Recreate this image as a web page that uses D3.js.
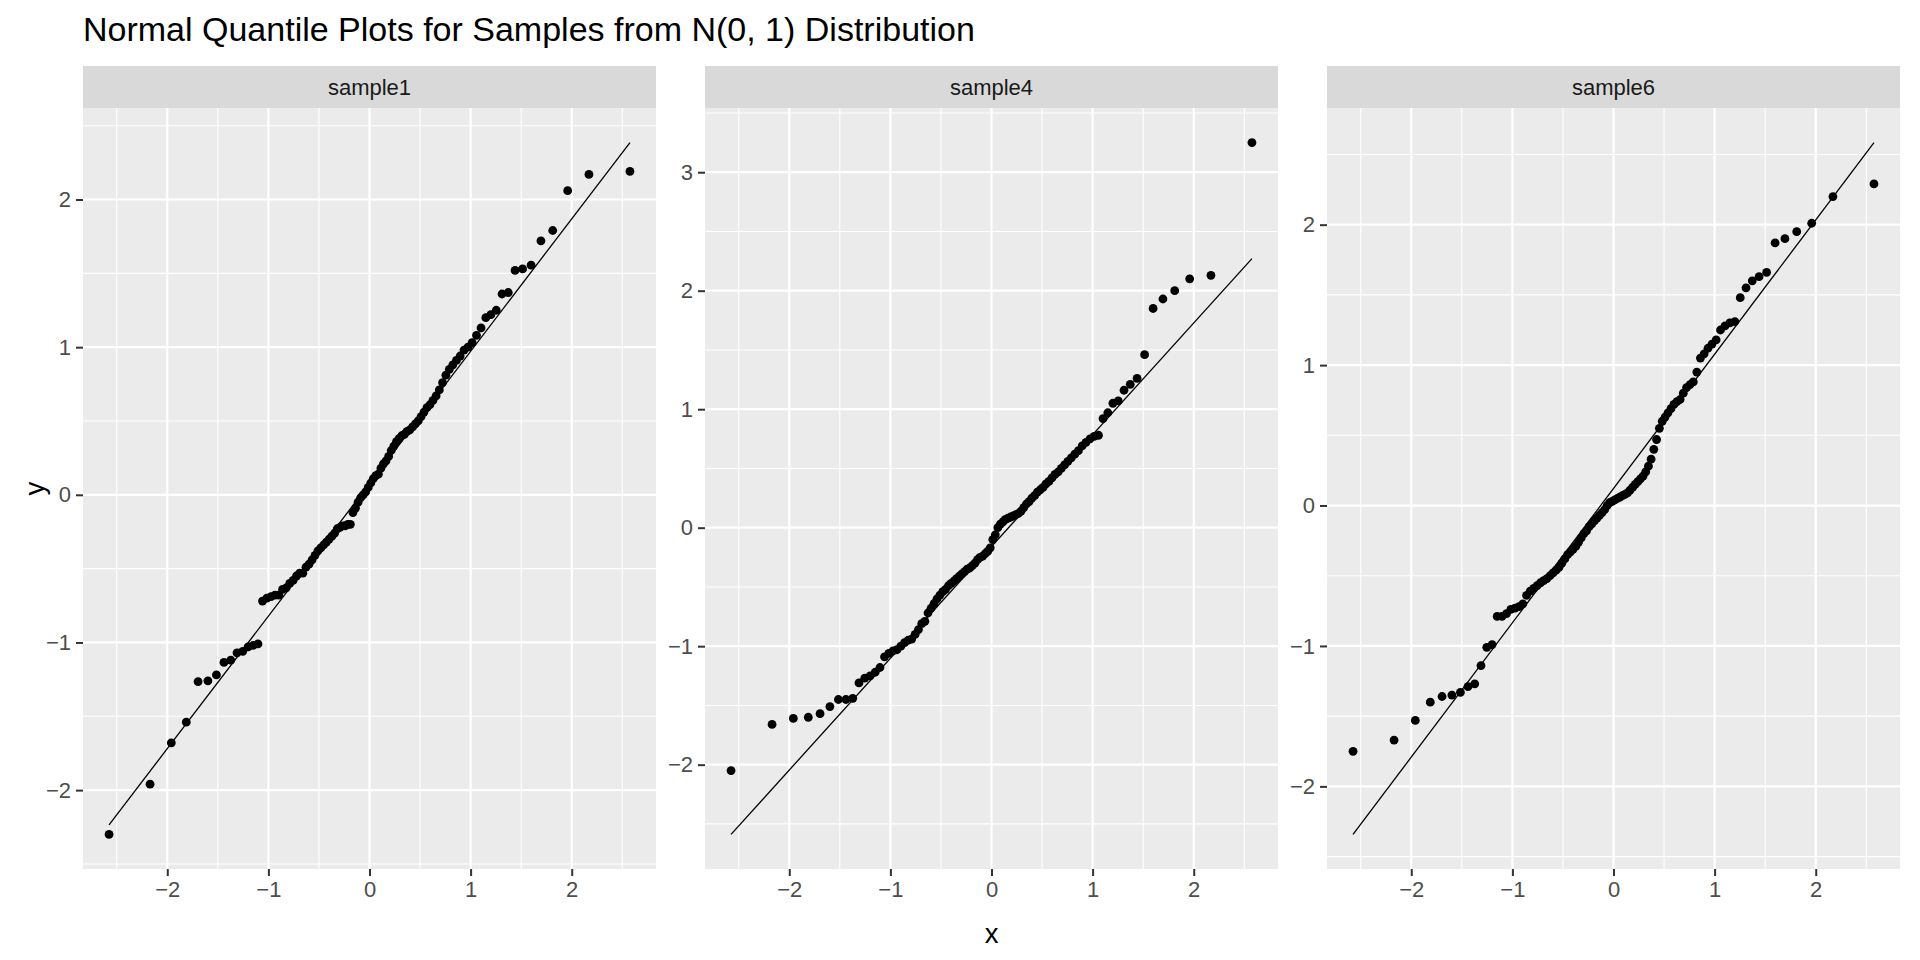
<!DOCTYPE html>
<html><head><meta charset="utf-8">
<script src="https://cdn.jsdelivr.net/npm/d3@7"></script>
<style>
body{margin:0;background:#fff}
svg{display:block}
text{font-family:"Liberation Sans",Arial,sans-serif}
</style>
</head><body>
<svg id="chart" width="1920" height="960"></svg>
<script>
const chartTitle = "Normal Quantile Plots for Samples from N(0, 1) Distribution";
const xAxisTitle = "x";
const yAxisTitle = "y";
const panelNames = ["sample1", "sample4", "sample6"];

const sample1 = [-2.30,-1.96,-1.68,-1.54,-1.265,-1.26,-1.22,-1.135,-1.12,-1.07,
  -1.06,-1.03,-1.02,-1.01,-0.72,-0.70,-0.69,-0.68,-0.68,-0.64,
  -0.63,-0.60,-0.58,-0.55,-0.53,-0.53,-0.49,-0.47,-0.44,-0.41,
  -0.38,-0.36,-0.34,-0.32,-0.30,-0.28,-0.26,-0.23,-0.22,-0.21,
  -0.21,-0.20,-0.20,-0.12,-0.09,-0.05,-0.02,0.00,0.02,0.05,
  0.08,0.11,0.13,0.14,0.18,0.21,0.23,0.26,0.30,0.33,
  0.36,0.38,0.40,0.41,0.43,0.44,0.46,0.48,0.50,0.53,
  0.56,0.59,0.61,0.64,0.67,0.71,0.76,0.81,0.85,0.88,
  0.91,0.94,0.98,1.00,1.03,1.08,1.13,1.20,1.22,1.25,
  1.36,1.37,1.52,1.53,1.555,1.72,1.79,2.06,2.17,2.19];

const sample4 = [-2.05,-1.66,-1.61,-1.60,-1.57,-1.51,-1.45,-1.45,-1.44,-1.31,
  -1.27,-1.25,-1.22,-1.18,-1.09,-1.06,-1.04,-1.03,-1.00,-0.97,
  -0.95,-0.94,-0.90,-0.86,-0.81,-0.79,-0.72,-0.68,-0.64,-0.60,
  -0.57,-0.54,-0.52,-0.49,-0.47,-0.45,-0.43,-0.41,-0.39,-0.37,
  -0.35,-0.34,-0.32,-0.30,-0.27,-0.25,-0.24,-0.22,-0.20,-0.17,
  -0.10,-0.06,0.00,0.03,0.05,0.07,0.08,0.09,0.10,0.11,
  0.12,0.14,0.17,0.20,0.22,0.25,0.27,0.30,0.32,0.34,
  0.37,0.39,0.42,0.45,0.47,0.50,0.53,0.56,0.59,0.62,
  0.65,0.69,0.72,0.75,0.77,0.78,0.92,0.97,1.05,1.07,
  1.16,1.21,1.26,1.46,1.85,1.93,2.00,2.10,2.13,3.25];

const sample6 = [-1.75,-1.67,-1.53,-1.40,-1.36,-1.35,-1.33,-1.29,-1.27,-1.14,
  -1.01,-0.99,-0.79,-0.79,-0.77,-0.74,-0.73,-0.72,-0.70,-0.64,
  -0.61,-0.59,-0.57,-0.55,-0.535,-0.52,-0.50,-0.48,-0.46,-0.44,
  -0.41,-0.38,-0.35,-0.33,-0.31,-0.29,-0.26,-0.23,-0.20,-0.18,
  -0.15,-0.13,-0.11,-0.09,-0.07,-0.05,-0.03,0.00,0.02,0.03,
  0.04,0.05,0.06,0.07,0.08,0.09,0.11,0.13,0.15,0.17,
  0.19,0.21,0.24,0.28,0.33,0.40,0.47,0.55,0.60,0.63,
  0.66,0.69,0.72,0.74,0.755,0.80,0.84,0.86,0.88,0.95,
  1.05,1.08,1.12,1.15,1.18,1.25,1.28,1.30,1.31,1.48,
  1.55,1.60,1.63,1.66,1.87,1.90,1.95,2.01,2.20,2.29];

const xTickValues = [-2, -1, 0, 1, 2];
const yTicks1 = [-2, -1, 0, 1, 2];
const yTicks4 = [-2, -1, 0, 1, 2, 3];
const yTicks6 = [-2, -1, 0, 1, 2];

const samples = [sample1, sample4, sample6];
const yTickSets = [yTicks1, yTicks4, yTicks6];

// inverse standard normal CDF (Acklam)
function qnorm(p) {
  const a=[-3.969683028665376e+01,2.209460984245205e+02,-2.759285104469687e+02,1.383577518672690e+02,-3.066479806614716e+01,2.506628277459239e+00];
  const b=[-5.447609879822406e+01,1.615858368580409e+02,-1.556989798598866e+02,6.680131188771972e+01,-1.328068155288572e+01];
  const c=[-7.784894002430293e-03,-3.223964580411365e-01,-2.400758277161838e+00,-2.549732539343734e+00,4.374664141464968e+00,2.938163982698783e+00];
  const d=[7.784695709041462e-03,3.224671290700398e-01,2.445134137142996e+00,3.754408661907416e+00];
  const pl=0.02425, ph=1-pl;
  let q,r;
  if(p<pl){q=Math.sqrt(-2*Math.log(p));return (((((c[0]*q+c[1])*q+c[2])*q+c[3])*q+c[4])*q+c[5])/((((d[0]*q+d[1])*q+d[2])*q+d[3])*q+1);}
  if(p<=ph){q=p-0.5;r=q*q;return (((((a[0]*r+a[1])*r+a[2])*r+a[3])*r+a[4])*r+a[5])*q/(((((b[0]*r+b[1])*r+b[2])*r+b[3])*r+b[4])*r+1);}
  q=Math.sqrt(-2*Math.log(1-p));return -(((((c[0]*q+c[1])*q+c[2])*q+c[3])*q+c[4])*q+c[5])/((((d[0]*q+d[1])*q+d[2])*q+d[3])*q+1);
}

const svg = d3.select("#chart");
const stripTop = 66, panelTop = 108, panelBottom = 869;
const panelW = 573, panelX0 = [83, 705, 1327];
const tickLen = 7;

svg.append("text").attr("x", panelX0[0]).attr("y", 41)
  .attr("font-size", 34).attr("fill", "#000").text(chartTitle);

function expand(ext) { const r = ext[1]-ext[0]; return [ext[0]-0.05*r, ext[1]+0.05*r]; }

samples.forEach((data, k) => {
  const sorted = data.slice().sort(d3.ascending);
  const n = sorted.length;
  const pts = sorted.map((v, i) => ({x: qnorm((i + 0.5) / n), y: v}));
  const q25 = d3.quantile(sorted, 0.25), q75 = d3.quantile(sorted, 0.75);
  const t25 = qnorm(0.25), t75 = qnorm(0.75);
  const slope = (q75 - q25) / (t75 - t25), icpt = q25 - slope * t25;
  const xmin = pts[0].x, xmax = pts[n-1].x;
  const line = [{x: xmin, y: icpt + slope*xmin}, {x: xmax, y: icpt + slope*xmax}];
  const yext = d3.extent(pts.concat(line), d => d.y);
  const x0 = panelX0[k];
  const xs = d3.scaleLinear().domain(expand([xmin, xmax])).range([x0, x0 + panelW]);
  const ys = d3.scaleLinear().domain(expand(yext)).range([panelBottom, panelTop]);
  const g = svg.append("g");
  g.append("rect").attr("x", x0).attr("y", panelTop).attr("width", panelW)
    .attr("height", panelBottom - panelTop).attr("fill", "#EBEBEB");
  const xd = xs.domain(), yd = ys.domain();
  const yTicks = yTickSets[k];
  const xMinor = d3.range(xTickValues[0]-0.5, xTickValues[xTickValues.length-1]+1, 1).filter(v => v > xd[0] && v < xd[1]);
  const yMinor = d3.range(yTicks[0]-0.5, yTicks[yTicks.length-1]+1, 1).filter(v => v > yd[0] && v < yd[1]);
  g.selectAll(".xmin").data(xMinor).join("line")
    .attr("x1", d => xs(d)).attr("x2", d => xs(d)).attr("y1", panelTop).attr("y2", panelBottom)
    .attr("stroke", "#fff").attr("stroke-width", 1.1);
  g.selectAll(".ymin").data(yMinor).join("line")
    .attr("y1", d => ys(d)).attr("y2", d => ys(d)).attr("x1", x0).attr("x2", x0 + panelW)
    .attr("stroke", "#fff").attr("stroke-width", 1.1);
  g.selectAll(".xmaj").data(xTickValues).join("line")
    .attr("x1", d => xs(d)).attr("x2", d => xs(d)).attr("y1", panelTop).attr("y2", panelBottom)
    .attr("stroke", "#fff").attr("stroke-width", 2.2);
  g.selectAll(".ymaj").data(yTicks).join("line")
    .attr("y1", d => ys(d)).attr("y2", d => ys(d)).attr("x1", x0).attr("x2", x0 + panelW)
    .attr("stroke", "#fff").attr("stroke-width", 2.2);
  g.append("line").attr("x1", xs(line[0].x)).attr("y1", ys(line[0].y))
    .attr("x2", xs(line[1].x)).attr("y2", ys(line[1].y))
    .attr("stroke", "#000").attr("stroke-width", 1.3);
  g.selectAll(".pt").data(pts).join("circle")
    .attr("cx", d => xs(d.x)).attr("cy", d => ys(d.y)).attr("r", 4.4).attr("fill", "#000");
  g.append("rect").attr("x", x0).attr("y", stripTop).attr("width", panelW)
    .attr("height", panelTop - stripTop).attr("fill", "#D9D9D9");
  g.append("text").attr("x", x0 + panelW/2).attr("y", (stripTop + panelTop)/2)
    .attr("dy", "0.35em").attr("text-anchor", "middle").attr("font-size", 22)
    .attr("fill", "#1A1A1A").text(panelNames[k]);
  const xAxis = g.append("g").attr("transform", `translate(0,${panelBottom})`)
    .call(d3.axisBottom(xs).tickValues(xTickValues).tickSize(tickLen).tickPadding(5).tickFormat(d3.format("d")));
  const yAxis = g.append("g").attr("transform", `translate(${x0},0)`)
    .call(d3.axisLeft(ys).tickValues(yTicks).tickSize(tickLen).tickPadding(5).tickFormat(d3.format("d")));
  [xAxis, yAxis].forEach(a => {
    a.select(".domain").remove();
    a.selectAll(".tick line").attr("stroke", "#333333").attr("stroke-width", 2);
    a.selectAll(".tick text").attr("fill", "#4D4D4D").attr("font-size", 22)
      .attr("font-family", '"Liberation Sans",Arial,sans-serif');
  });
});

svg.append("text").attr("x", panelX0[1] + panelW/2).attr("y", 943)
  .attr("text-anchor", "middle").attr("font-size", 27.5).attr("fill", "#000").text(xAxisTitle);
svg.append("text").attr("transform", `translate(44,${(panelTop+panelBottom)/2}) rotate(-90)`)
  .attr("text-anchor", "middle").attr("font-size", 27.5).attr("fill", "#000").text(yAxisTitle);
</script>
</body></html>
